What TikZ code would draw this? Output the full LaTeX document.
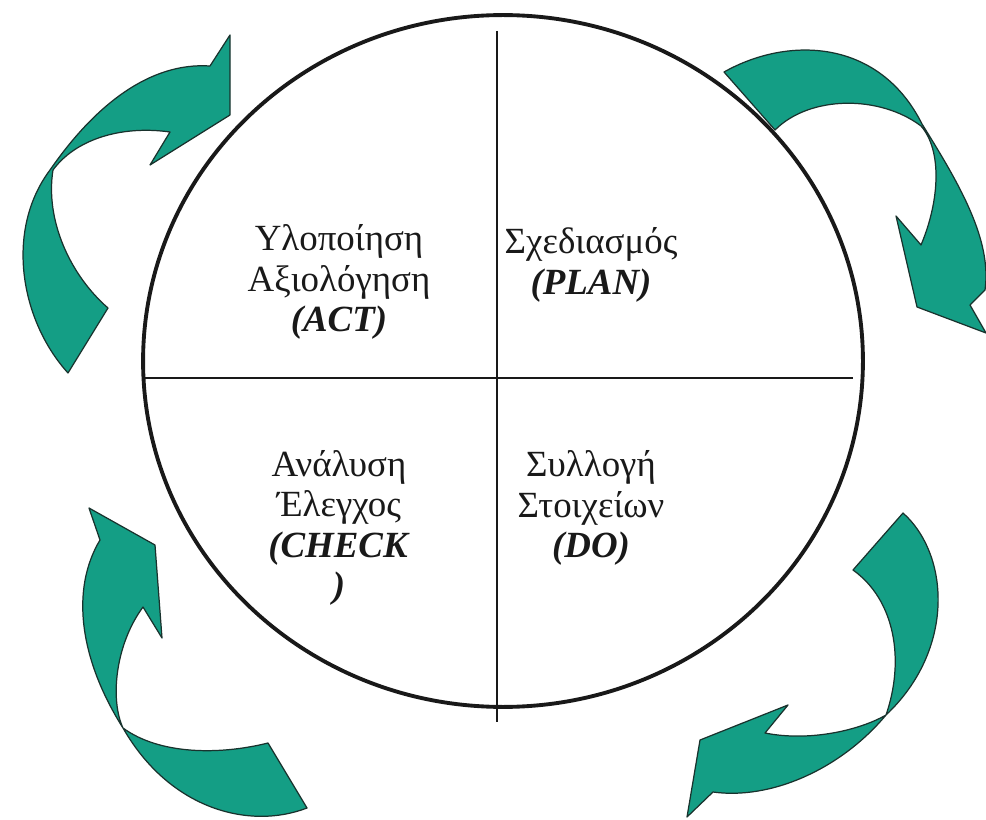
\documentclass[tikz,border=0pt]{standalone}
\usepackage{fontspec}
\setmainfont{Liberation Serif}
\definecolor{pdcateal}{RGB}{20,158,133}
\definecolor{pdcaedge}{RGB}{25,50,45}
\definecolor{pdcaink}{RGB}{25,25,25}
\usetikzlibrary{positioning}
\tikzset{
  cyclearrow/.style={fill=pdcateal, draw=pdcaedge, line width=0.7pt, line join=round},
  phase/.style={font=\fontsize{21}{23}\selectfont, align=center, text=pdcaink},
}

\begin{document}
\begin{tikzpicture}[x=0.02cm, y=-0.02cm]
  \useasboundingbox (0,0) rectangle (986,820);

  % Circle and quadrant lines
  \draw[line width=2.2pt, pdcaink] (503,361) ellipse [x radius=7.2cm, y radius=6.92cm];
  \coordinate (vtop) at (497,31);
  \coordinate (vbot) at (497,722);
  \coordinate (hleft) at (145,378);
  \coordinate (hright) at (853,378);
  \draw[line width=1pt, pdcaink] (vtop) -- (vbot);
  \draw[line width=1pt, pdcaink] (hleft) -- (hright);

  % Quadrant labels
  \node[phase] (act) at (339,282) {Υλοποίηση\\Αξιολόγηση\\\textbf{\textit{(ACT)}}};
  \node[phase] (plan) at (591,265) {Σχεδιασμός\\\textbf{\textit{(PLAN)}}};
  \node[phase] (check) at (339,528) {Ανάλυση\\Έλεγχος\\\textbf{\textit{(CHECK}}\\\textbf{\textit{)}}};
  \node[phase] (doo) at (591,508) {Συλλογή\\Στοιχείων\\\textbf{\textit{(DO)}}};

  % Top left arrow
  \draw[cyclearrow] (68,373) .. controls (20,320) and (5,230) .. (50,170)
    .. controls (95,105) and (150,62) .. (210,66)
    -- (230,35) -- (230,115) -- (150,165) -- (170,132)
    .. controls (120,125) and (75,140) .. (53,170)
    .. controls (45,220) and (70,275) .. (108,308)
    -- cycle;

  % Top right arrow
  \draw[cyclearrow] (724,72) .. controls (790,35) and (880,40) .. (922,124)
    .. controls (960,185) and (992,240) .. (985,290)
    -- (970,305) -- (986,333) -- (917,307) -- (896,216) -- (921,245)
    .. controls (940,200) and (942,150) .. (921,126)
    .. controls (880,95) and (810,95) .. (775,130)
    -- cycle;

  % Bottom right arrow
  \draw[cyclearrow] (903,513) .. controls (950,555) and (955,650) .. (886,715)
    .. controls (840,770) and (770,800) .. (713,792)
    -- (687,817) -- (700,740) -- (788,705) -- (765,733)
    .. controls (810,742) and (860,730) .. (886,715)
    .. controls (905,660) and (895,600) .. (853,570)
    -- cycle;

  % Bottom left arrow
  \draw[cyclearrow] (307,808) .. controls (250,830) and (170,810) .. (123,728)
    .. controls (80,660) and (70,590) .. (100,540)
    -- (89,508) -- (155,545) -- (162,638) -- (143,607)
    .. controls (115,645) and (110,700) .. (123,728)
    .. controls (160,755) and (220,755) .. (268,743)
    -- cycle;
\end{tikzpicture}
\end{document}
